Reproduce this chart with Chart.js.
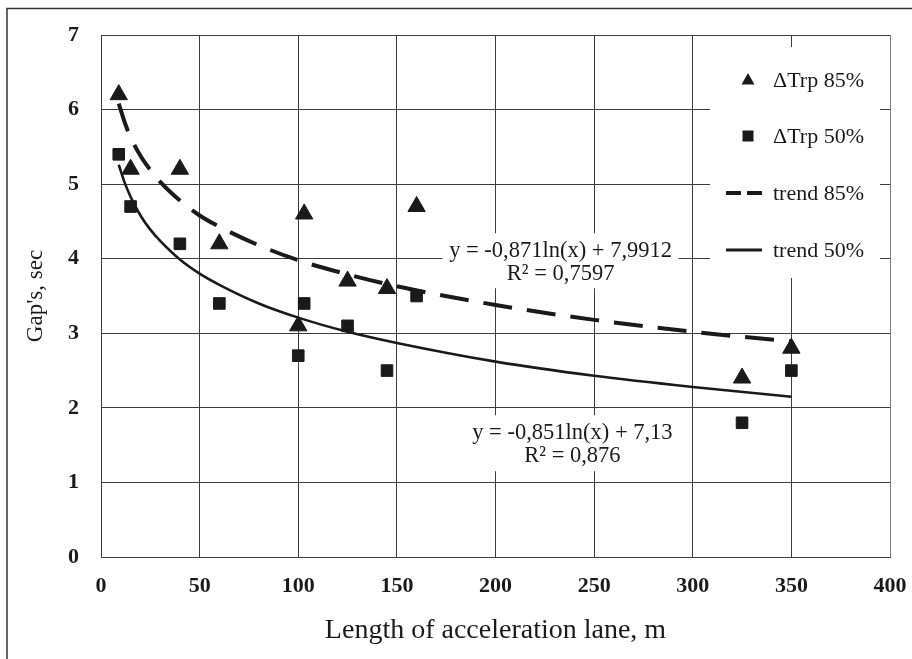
<!DOCTYPE html>
<html>
<head>
<meta charset="utf-8">
<script src="https://cdn.jsdelivr.net/npm/chart.js@4.4.1/dist/chart.umd.min.js"></script>
<style>
  html, body { margin: 0; padding: 0; background: #ffffff; }
  #wrap { width: 912px; height: 659px; position: relative; }
</style>
</head>
<body>
<div id="wrap"><canvas id="c" width="912" height="659"></canvas></div>
<script>
// ---- Data ----
const laneLength = [9, 15, 40, 60, 100, 103, 125, 145, 160, 325, 350];
const gap85 = [6.2, 5.2, 5.2, 4.2, 3.1, 4.6, 3.7, 3.6, 4.7, 2.4, 2.8];
const gap50 = [5.4, 4.7, 4.2, 3.4, 2.7, 3.4, 3.1, 2.5, 3.5, 1.8, 2.5];

const trendX = [9, 12, 15, 20, 25, 30, 40, 50, 60, 80, 100, 125, 150, 200, 250, 300, 350];
const trend85 = [6.08, 5.83, 5.63, 5.38, 5.19, 5.03, 4.78, 4.58, 4.43, 4.18, 3.98, 3.79, 3.63, 3.38, 3.18, 3.02, 2.89];
const trend50 = [5.26, 5.02, 4.83, 4.58, 4.39, 4.24, 3.99, 3.80, 3.65, 3.40, 3.21, 3.02, 2.87, 2.62, 2.43, 2.28, 2.15];

const xTicks = [0, 50, 100, 150, 200, 250, 300, 350, 400];
const yTicks = [0, 1, 2, 3, 4, 5, 6, 7];

const seriesLabels = ['\u0394Trp 85%', '\u0394Trp 50%', 'trend 85%', 'trend 50%'];
const eq85 = ['y = -0,871ln(x) + 7,9912', 'R\u00B2 = 0,7597'];
const eq50 = ['y = -0,851ln(x) + 7,13', 'R\u00B2 = 0,876'];
const xTitle = 'Length of acceleration lane, m';
const yTitle = "Gap's, sec";

// ---- helpers ----
const pts = (xs, ys) => xs.map((x, i) => ({ x: x, y: ys[i] }));
const INK = '#1a1a1a';
const GRID = '#3c3c3c';
const SERIF = "'Liberation Serif', 'Times New Roman', serif";

const bgPlugin = {
  id: 'bg',
  beforeDraw(chart) {
    const ctx = chart.ctx;
    ctx.save();
    ctx.fillStyle = '#ffffff';
    ctx.fillRect(0, 0, chart.width, chart.height);
    ctx.restore();
  }
};

function drawEqBox(chart, lines, xVal, yVal, boxW, boxH) {
  const ctx = chart.ctx;
  const xs = chart.scales.x, ys = chart.scales.y;
  const cx = xs.getPixelForValue(xVal);
  const cy = ys.getPixelForValue(yVal);
  ctx.save();
  ctx.fillStyle = '#ffffff';
  ctx.fillRect(cx - boxW / 2, cy - 18, boxW, boxH);
  ctx.fillStyle = INK;
  ctx.font = '22.5px ' + SERIF;
  ctx.textAlign = 'center';
  ctx.textBaseline = 'middle';
  ctx.fillText(lines[0], cx, cy);
  ctx.fillText(lines[1], cx, cy + 23);
  ctx.restore();
}

const eqPlugin = {
  id: 'eq',
  beforeDatasetsDraw(chart) {
    drawEqBox(chart, eq85, 233, 4.1, 236, 55);
    drawEqBox(chart, eq50, 239, 1.66, 220, 56);
  }
};

const legendPlugin = {
  id: 'customLegend',
  afterDraw(chart) {
    const ctx = chart.ctx;
    ctx.save();
    ctx.fillStyle = '#ffffff';
    ctx.fillRect(710, 47, 170, 231);
    const sx = 748, tx = 773;
    const rows = [80, 136, 193, 250];
    // triangle
    ctx.fillStyle = INK;
    ctx.beginPath();
    ctx.moveTo(sx, rows[0] - 7);
    ctx.lineTo(sx + 6.5, rows[0] + 4.5);
    ctx.lineTo(sx - 6.5, rows[0] + 4.5);
    ctx.closePath();
    ctx.fill();
    // square
    ctx.fillRect(sx - 5.5, rows[1] - 5.5, 11, 11);
    // dashed
    ctx.strokeStyle = INK;
    ctx.lineWidth = 4;
    ctx.beginPath();
    ctx.moveTo(726, rows[2]); ctx.lineTo(741, rows[2]);
    ctx.moveTo(747, rows[2]); ctx.lineTo(762, rows[2]);
    ctx.stroke();
    // solid
    ctx.lineWidth = 3;
    ctx.beginPath();
    ctx.moveTo(726, rows[3]); ctx.lineTo(762, rows[3]);
    ctx.stroke();
    // labels
    ctx.font = '22px ' + SERIF;
    ctx.textAlign = 'left';
    ctx.textBaseline = 'middle';
    seriesLabels.forEach((t, i) => ctx.fillText(t, tx, rows[i] + 1));
    // outer frame of the figure
    ctx.strokeStyle = '#333333';
    ctx.lineWidth = 1.5;
    ctx.beginPath();
    ctx.moveTo(7, 659); ctx.lineTo(7, 8.5); ctx.lineTo(912, 8.5);
    ctx.stroke();
    ctx.restore();
  }
};

new Chart(document.getElementById('c'), {
  type: 'scatter',
  data: {
    datasets: [
      {
        label: seriesLabels[2],
        data: pts(trendX, trend85),
        showLine: true,
        borderColor: INK,
        borderWidth: 4,
        borderDash: [29, 15],
        pointRadius: 0,
        cubicInterpolationMode: 'monotone',
        fill: false,
        order: 3
      },
      {
        label: seriesLabels[3],
        data: pts(trendX, trend50),
        showLine: true,
        borderColor: INK,
        borderWidth: 2.6,
        pointRadius: 0,
        cubicInterpolationMode: 'monotone',
        fill: false,
        order: 4
      },
      {
        label: seriesLabels[0],
        data: pts(laneLength, gap85),
        pointStyle: 'triangle',
        pointRadius: 10,
        backgroundColor: INK,
        borderColor: INK,
        borderWidth: 1,
        showLine: false,
        order: 1
      },
      {
        label: seriesLabels[1],
        data: pts(laneLength, gap50),
        pointStyle: 'rect',
        pointRadius: 8.2,
        backgroundColor: INK,
        borderColor: INK,
        borderWidth: 1,
        showLine: false,
        order: 2
      }
    ]
  },
  options: {
    responsive: false,
    animation: false,
    devicePixelRatio: 1,
    layout: { padding: { top: 35, right: 22, left: 0, bottom: 0 } },
    plugins: {
      legend: { display: false },
      tooltip: { enabled: false }
    },
    scales: {
      x: {
        type: 'linear',
        min: xTicks[0],
        max: xTicks[xTicks.length - 1],
        afterBuildTicks(scale) { scale.ticks = xTicks.map(v => ({ value: v })); },
        afterFit(scale) {
          scale.height = 102;
          scale.paddingLeft = 0;
          scale.paddingRight = 0;
        },
        ticks: {
          padding: 16,
          color: INK,
          font: { family: SERIF, size: 22, weight: 'bold' }
        },
        grid: {
          color: (c) => (c.tick && c.tick.value === 400 ? '#777777' : GRID),
          lineWidth: 1,
          drawTicks: false
        },
        border: { color: GRID, width: 1 },
        title: {
          display: true,
          text: xTitle,
          color: INK,
          font: { family: SERIF, size: 28 },
          padding: { top: 0, bottom: 12 }
        }
      },
      y: {
        type: 'linear',
        min: yTicks[0],
        max: yTicks[yTicks.length - 1],
        afterBuildTicks(scale) { scale.ticks = yTicks.map(v => ({ value: v })); },
        afterFit(scale) {
          scale.width = 101;
          scale.paddingTop = 0;
          scale.paddingBottom = 0;
        },
        ticks: {
          padding: 22,
          color: INK,
          font: { family: SERIF, size: 22, weight: 'bold' }
        },
        grid: { color: GRID, lineWidth: 1, drawTicks: false },
        border: { color: GRID, width: 1 },
        title: {
          display: true,
          text: yTitle,
          color: INK,
          font: { family: SERIF, size: 23 },
          padding: { top: 22, bottom: 0 }
        }
      }
    }
  },
  plugins: [bgPlugin, eqPlugin, legendPlugin]
});
</script>
</body>
</html>
